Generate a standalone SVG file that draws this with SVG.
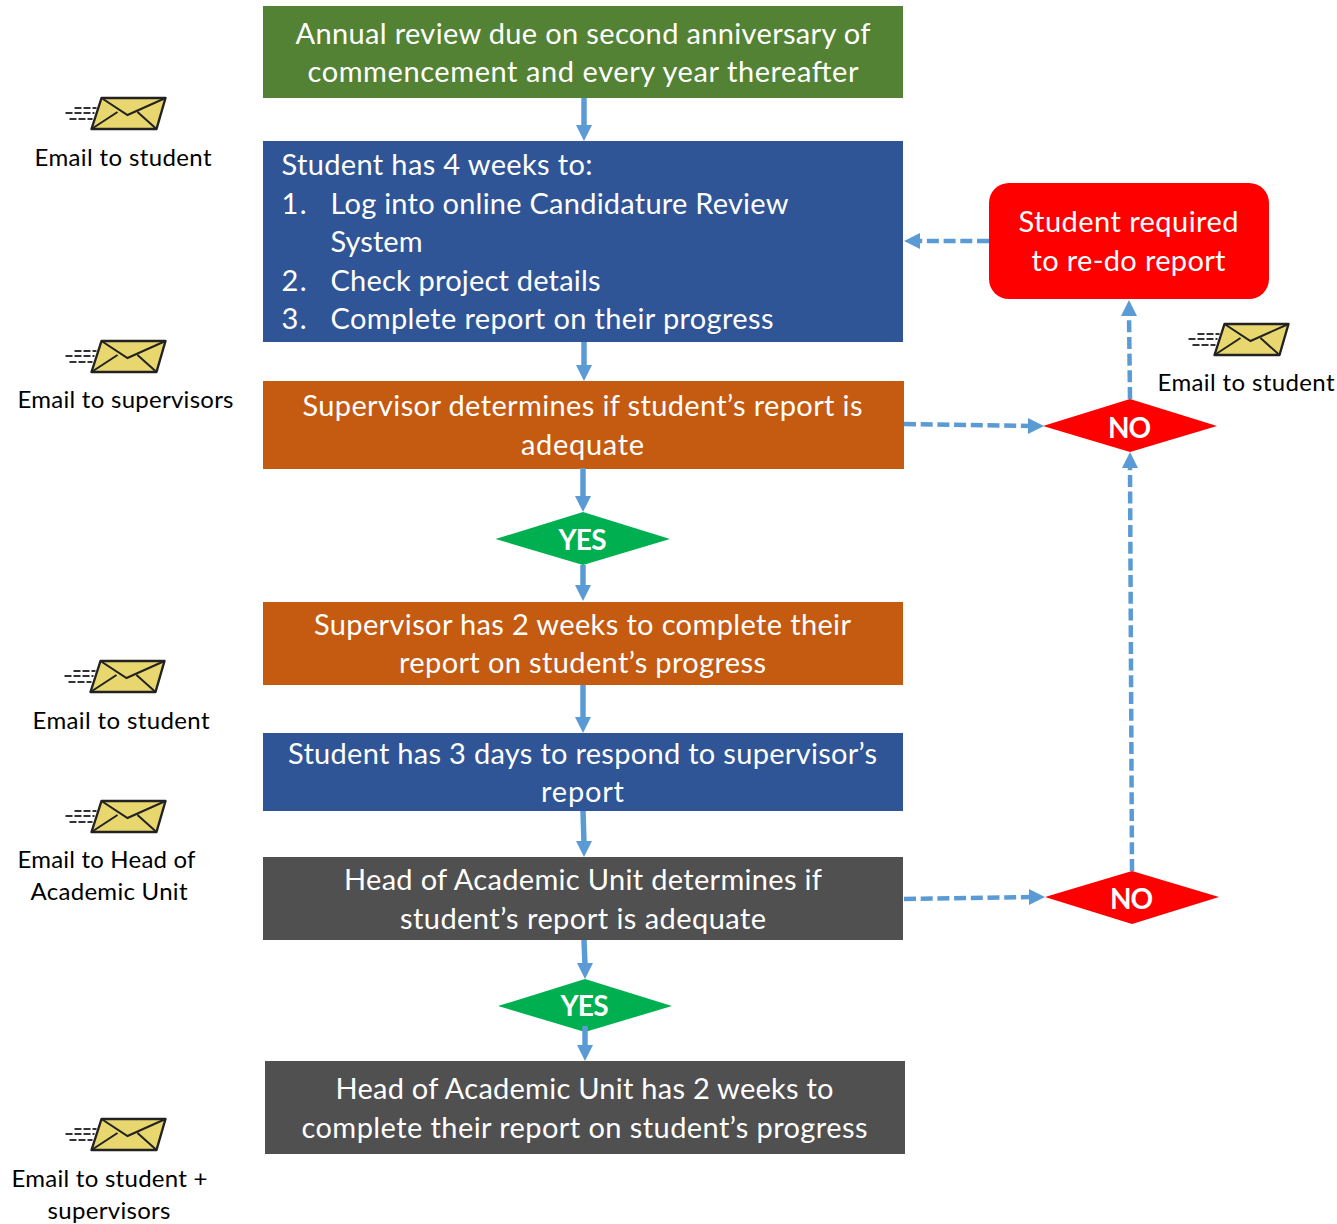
<svg xmlns="http://www.w3.org/2000/svg" width="1337" height="1224" viewBox="0 0 1337 1224">
<style>
text{font-family:Lato,"Open Sans","Liberation Sans",sans-serif}
.w{fill:#fff;font-size:29px}
.c{text-anchor:middle}
.k{fill:#000;font-size:24px}
.b{fill:#fff;font-size:28px;font-weight:700;text-anchor:middle}
.s{stroke:#5b9bd5;stroke-width:5.500;fill:none}
.d{stroke:#5b9bd5;stroke-width:4.500;fill:none;stroke-dasharray:12 4.700}
.h{fill:#5b9bd5}
.green{fill:#548235}.blue{fill:#2f5597}.orange{fill:#c55a11}.grey{fill:#505050}.red{fill:#f00}.yes{fill:#00b050}
</style>
<defs>
<g id="env">
<path d="M0 16H29M9 11H31M4 22H27" stroke="#333" stroke-width="1.800" stroke-dasharray="7 2" fill="none"/>
<path d="M36 1H100L91 32H26Z" fill="#e8d76e" stroke="#222" stroke-width="2.400" stroke-linejoin="round"/>
<path d="M36 1L62 18L100 1M26 32L52 15M72 15L91 32" fill="none" stroke="#222" stroke-width="2"/>
</g>
</defs>
<g id="n1"><rect class="green" x="263" y="6" width="640" height="92"/>
<text class="w c" x="583" y="44" textLength="575">Annual review due on second anniversary of</text>
<text class="w c" x="583" y="82" textLength="551">commencement and every year thereafter</text></g>
<g id="n2"><rect class="blue" x="263" y="141" width="640" height="201"/>
<text class="w" x="281.500" y="175" textLength="311">Student has 4 weeks to:</text>
<text class="w" x="281.500" y="214" textLength="25">1.</text><text class="w" x="330.500" y="214" textLength="458">Log into online Candidature Review</text>
<text class="w" x="330.500" y="252" textLength="92">System</text>
<text class="w" x="281.500" y="291" textLength="25">2.</text><text class="w" x="330.500" y="291" textLength="270">Check project details</text>
<text class="w" x="281.500" y="329" textLength="25">3.</text><text class="w" x="330.500" y="329" textLength="443">Complete report on their progress</text></g>
<g id="n3"><rect class="orange" x="263" y="381" width="641" height="88"/>
<text class="w c" x="582.500" y="416" textLength="560">Supervisor determines if student’s report is</text>
<text class="w c" x="582.500" y="455" textLength="123">adequate</text></g>
<g id="yes1"><path class="yes" d="M495.500 539L583 512L670 539L583 565Z"/><text class="b" x="582.500" y="550" textLength="48">YES</text></g>
<g id="n4"><rect class="orange" x="263" y="602" width="640" height="83"/>
<text class="w c" x="582.500" y="635" textLength="537">Supervisor has 2 weeks to complete their</text>
<text class="w c" x="582.500" y="673" textLength="367">report on student’s progress</text></g>
<g id="n5"><rect class="blue" x="263" y="733" width="640" height="78"/>
<text class="w c" x="582.500" y="764" textLength="589">Student has 3 days to respond to supervisor’s</text>
<text class="w c" x="582.500" y="802" textLength="83">report</text></g>
<g id="n6"><rect class="grey" x="263" y="857" width="640" height="83"/>
<text class="w c" x="583" y="890" textLength="478">Head of Academic Unit determines if</text>
<text class="w c" x="583" y="929" textLength="366">student’s report is adequate</text></g>
<g id="yes2"><path class="yes" d="M498 1006L585 979L672 1006L585 1032Z"/><text class="b" x="584.500" y="1016" textLength="48">YES</text></g>
<g id="n7"><rect class="grey" x="265" y="1061" width="640" height="93"/>
<text class="w c" x="584.500" y="1099" textLength="498">Head of Academic Unit has 2 weeks to</text>
<text class="w c" x="584.500" y="1138" textLength="566">complete their report on student’s progress</text></g>
<g id="redo"><rect class="red" x="989" y="183" width="280" height="116" rx="20"/>
<text class="w c" x="1128.500" y="232" textLength="220">Student required</text>
<text class="w c" x="1128.500" y="271" textLength="194">to re-do report</text></g>
<g id="no1"><path class="red" d="M1043 426L1130 399L1217 426L1130 452Z"/><text class="b" x="1129.500" y="438" textLength="43">NO</text></g>
<g id="no2"><path class="red" d="M1045 897L1132 871L1219 897L1132 924Z"/><text class="b" x="1131.500" y="909" textLength="43">NO</text></g>
<g id="e1"><use href="#env" x="65.500" y="97"/><text class="k" x="34.500" y="166" textLength="177">Email to student</text></g>
<g id="e2"><use href="#env" x="65.500" y="340"/><text class="k" x="17.500" y="408" textLength="216">Email to supervisors</text></g>
<g id="e3"><use href="#env" x="64.500" y="660"/><text class="k" x="32.500" y="729" textLength="177">Email to student</text></g>
<g id="e4"><use href="#env" x="65.500" y="800"/><text class="k" x="17.500" y="868" textLength="178">Email to Head of</text><text class="k" x="30.500" y="900" textLength="157">Academic Unit</text></g>
<g id="e5"><use href="#env" x="65.500" y="1118"/><text class="k" x="11.500" y="1187" textLength="196">Email to student +</text><text class="k" x="47.500" y="1219" textLength="123">supervisors</text></g>
<g id="e6"><use href="#env" x="1188.500" y="323"/><text class="k" x="1157.500" y="391" textLength="177">Email to student</text></g>
<g id="connectors">
<path class="s" d="M584 98V127"/><path class="h" d="M576 125H592L584 141Z"/>
<path class="s" d="M584 342V367"/><path class="h" d="M576 365H592L584 381Z"/>
<path class="s" d="M583 468V499"/><path class="h" d="M575 496H591L583 512Z"/>
<path class="s" d="M583 565V586"/><path class="h" d="M575 585H591L583 601Z"/>
<path class="s" d="M583 685V719"/><path class="h" d="M575 717H591L583 733Z"/>
<path class="s" d="M583 811L584 843"/><path class="h" d="M576 841H592L584 857Z"/>
<path class="s" d="M584 940L585 965"/><path class="h" d="M577 963H593L585 979Z"/>
<path class="s" d="M585 1026V1047"/><path class="h" d="M577 1045H593L585 1061Z"/>
<path class="d" d="M989 241H918"/><path class="h" d="M904 241L920 233V249Z"/>
<path class="d" d="M904 424L1030 426"/><path class="h" d="M1044 426L1028 418V434Z"/>
<path class="d" d="M1130 399L1129 314"/><path class="h" d="M1129 300L1137 316H1121Z"/>
<path class="d" d="M1132 871L1130 466"/><path class="h" d="M1130 452L1138 468H1122Z"/>
<path class="d" d="M904 899L1031 897"/><path class="h" d="M1045 897L1029 889V905Z"/>
</g>
</svg>
